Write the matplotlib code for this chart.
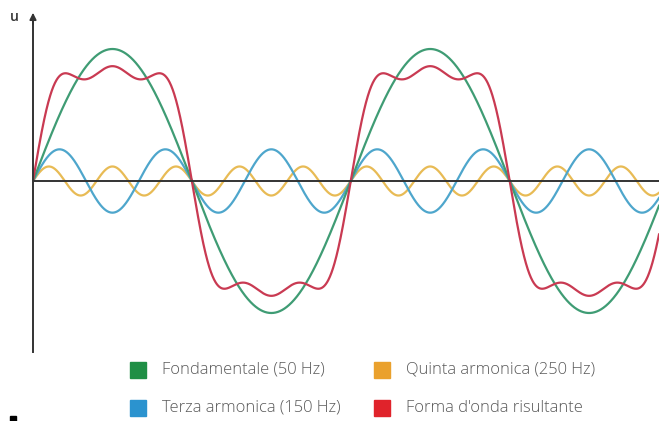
import numpy as np
import matplotlib
matplotlib.use("Agg")
import matplotlib.pyplot as plt
from matplotlib.patches import Rectangle

# Harmonic data (frequency in Hz, relative amplitude)
fundamental_freq = 50
harmonic_freqs = [50, 150, 250]
harmonic_amps = [1.0, 0.24, 0.11]
labels = ["Fondamentale (50 Hz)", "Terza armonica (150 Hz)",
          "Quinta armonica (250 Hz)", "Forma d'onda risultante"]
line_colors = ["#3f9c74", "#4ea6cc", "#e8bb55", "#c93a52"]
legend_colors = ["#1f8f45", "#2b93cf", "#eaa12d", "#e0232b"]

t_end = 39.4  # ms shown
t = np.linspace(0, t_end, 2000)
waves = [a * np.sin(2 * np.pi * f * t / 1000.0) for f, a in zip(harmonic_freqs, harmonic_amps)]
result = np.sum(waves, axis=0)

fig = plt.figure(figsize=(6.59, 4.21), dpi=100)
W, H = 659, 421
ax = fig.add_axes([33 / W, 69 / H, (W - 33) / W, 342 / H])
ax.set_xlim(0, t_end)
lim = 171 / 132
ax.set_ylim(-lim, lim)
ax.axis("off")

lw = 1.6
ax.plot(t, waves[2], color=line_colors[2], lw=lw, zorder=2)
ax.plot(t, waves[1], color=line_colors[1], lw=lw, zorder=3)
ax.plot(t, waves[0], color=line_colors[0], lw=lw, zorder=4)
ax.plot(t, result, color=line_colors[3], lw=lw, zorder=5)

# axes lines
ax.axhline(0, color="#333333", lw=1.4, zorder=6)
ax.plot([0, 0], [-lim, lim * 0.96], color="#333333", lw=1.4, zorder=6, clip_on=False)
ax.annotate("", xy=(0, lim * 1.0), xytext=(0, lim * 0.9),
            arrowprops=dict(arrowstyle="-|>", color="#333333", lw=1.2, mutation_scale=10),
            zorder=7, annotation_clip=False)
fig.text(14 / W, 1 - 17 / H, "u", fontsize=10, color="#333333", ha="center", va="center",
         family="Open Sans", fontweight="semibold")

# legend
entries = [(130, 370, 0), (374, 370, 2), (130, 408, 1), (374, 408, 3)]
for x, y, i in entries:
    fig.patches.append(Rectangle((x / W, 1 - (y + 8) / H), 16 / W, 16 / H,
                                 transform=fig.transFigure, color=legend_colors[i]))
    fig.text((x + 32) / W, 1 - y / H, labels[i], fontsize=11.9, color="#5a5a5a",
             ha="left", va="center", family="Open Sans", fontweight="light")

fig.patches.append(Rectangle((10 / W, 0), 6 / W, 5 / H, transform=fig.transFigure, color="black"))

fig.savefig("out.png", dpi=100, facecolor="white")
